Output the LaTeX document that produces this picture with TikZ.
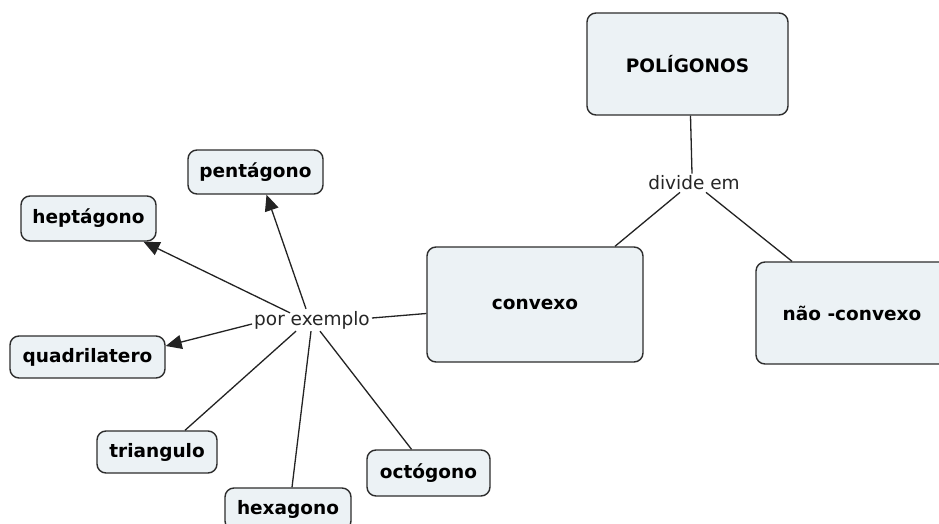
\documentclass[tikz,border=0pt]{standalone}
\usepackage{fontspec}
\setmainfont{DejaVu Sans}
\usetikzlibrary{arrows.meta}
\definecolor{boxfill}{RGB}{236,242,245}
\definecolor{boxline}{RGB}{45,45,45}
\definecolor{conn}{RGB}{35,35,35}
\tikzset{
  concept/.style={draw=boxline, fill=boxfill, line width=1.4pt, rounded corners=9pt,
    font=\fontsize{18.5}{21}\selectfont\bfseries, inner sep=0pt, align=center},
  linklabel/.style={font=\fontsize{18.5}{21}\selectfont, inner sep=2pt, text=black!85},
  link/.style={draw=conn, line width=1.3pt},
  arrowlink/.style={link, -{Triangle[length=16pt,width=14pt]}}
}
\begin{document}
\begin{tikzpicture}[x=1pt,y=-1pt]
\useasboundingbox (0,0) rectangle (939,524);
\fill[white] (0,0) rectangle (939,524);
\begin{scope}
\clip (0,0) rectangle (939,524);
% concepts
\node[concept, minimum width=201pt, minimum height=102pt] (pol) at (687.5,64) {POLÍGONOS};
\node[concept, minimum width=216pt, minimum height=115pt] (conv) at (535,304.5) {convexo};
\node[concept, minimum width=192pt, minimum height=102pt] (ncon) at (852,313) {não -convexo};
\node[concept, minimum width=135pt, minimum height=44pt] (pent) at (255.5,172) {pentágono};
\node[concept, minimum width=135pt, minimum height=45pt] (hept) at (88.5,218.5) {heptágono};
\node[concept, minimum width=155pt, minimum height=42pt] (quad) at (87.5,357) {quadrilatero};
\node[concept, minimum width=120pt, minimum height=42pt] (tri) at (157,452) {triangulo};
\node[concept, minimum width=126pt, minimum height=42pt] (hex) at (288,509) {hexagono};
\node[concept, minimum width=123pt, minimum height=46pt] (oct) at (428.5,473) {octógono};
% link labels
\node[linklabel] (div) at (694,183) {divide em};
\node[linklabel] (pex) at (312,320) {por exemplo};
% connectors
\draw[link] ([xshift=3pt]pol.south) -- ([xshift=-2pt]div.north);
\draw[link] ([xshift=-14pt]div.south) -- ([xshift=80pt]conv.north);
\draw[link] ([xshift=12pt]div.south) -- ([xshift=-60pt]ncon.north);
\draw[link] ([yshift=-9pt]conv.west) -- ([yshift=2pt]pex.east);
\draw[arrowlink] ([xshift=-6pt]pex.north) -- ([xshift=11pt]pent.south);
\draw[arrowlink] ([xshift=-22pt,yshift=-4pt]pex.north) -- ([xshift=55pt]hept.south);
\draw[arrowlink] ([yshift=-4pt]pex.west) -- ([yshift=11pt]quad.east);
\draw[link] ([xshift=-16pt]pex.south) -- ([xshift=28pt]tri.north);
\draw[link] ([xshift=-1pt]pex.south) -- ([xshift=4pt]hex.north);
\draw[link] ([xshift=8pt]pex.south) -- ([xshift=-17pt]oct.north);
\end{scope}
\end{tikzpicture}
\end{document}
